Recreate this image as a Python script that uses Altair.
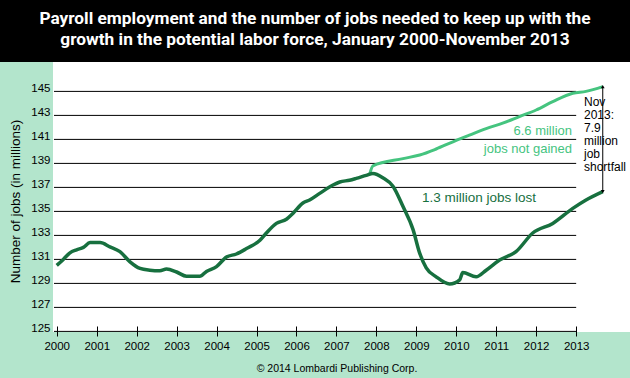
import altair as alt
import pandas as pd

# ---------------- data ----------------
title_lines = [
    "Payroll employment and the number of jobs needed to keep up with the",
    "growth in the potential labor force, January 2000-November 2013",
]

dark_dates = [
    "2000-01", "2000-03", "2000-05", "2000-07", "2000-09", "2000-11",
    "2001-02", "2001-05", "2001-08", "2001-11",
    "2002-02", "2002-05", "2002-08", "2002-10",
    "2003-01", "2003-04", "2003-08", "2003-10",
    "2004-01", "2004-04", "2004-07", "2004-10",
    "2005-02", "2005-04", "2005-07", "2005-10", "2005-12",
    "2006-03", "2006-05", "2006-08", "2006-12",
    "2007-02", "2007-05", "2007-07", "2007-10", "2007-12",
    "2008-03", "2008-06", "2008-09", "2008-12",
    "2009-02", "2009-04", "2009-07", "2009-11",
    "2010-02", "2010-03", "2010-07", "2010-10",
    "2011-02", "2011-07", "2011-12",
    "2012-06", "2012-12",
    "2013-04", "2013-09",
]
dark_values = [
    130.5, 131.0, 131.55, 131.8, 132.0, 132.4,
    132.4, 132.05, 131.65, 130.8,
    130.25, 130.1, 130.05, 130.2,
    129.95, 129.6, 129.6, 130.0,
    130.4, 131.2, 131.45, 131.9,
    132.6, 133.2, 134.0, 134.35, 134.85,
    135.7, 135.95, 136.5, 137.2,
    137.45, 137.6, 137.75, 138.0, 138.15,
    137.8, 137.1, 135.4, 133.5,
    131.5, 130.3, 129.55, 128.95,
    129.3, 129.9, 129.55, 130.1,
    130.95, 131.65, 133.2,
    134.0, 135.25,
    135.95, 136.65,
]

light_dates = [
    "2007-11", "2007-12", "2008-09", "2009-02", "2009-07", "2009-12",
    "2010-05", "2010-10", "2011-03", "2011-08", "2012-01", "2012-06",
    "2012-12", "2013-04", "2013-09",
]
light_values = [
    138.1, 138.8, 139.4, 139.7, 140.2, 140.8,
    141.35, 141.9, 142.35, 142.9, 143.45, 144.15,
    144.85, 145.0, 145.4,
]

grid_values = [125, 127, 129, 131, 133, 135, 137, 139, 141, 143, 145]
grid_start = "1999-12-07"
grid_end = "2013-01-01"
year_ticks = list(range(2000, 2014))

note_light = "6.6 million\njobs not gained"
note_dark = "1.3 million jobs lost"
note_gap = "Nov\n2013:\n7.9\nmillion\njob\nshortfall"
y_title = "Number of jobs (in millions)"
credit = "\u00a9 2014 Lombardi Publishing Corp."

# ---------------- tables ----------------
dark_df = pd.DataFrame({"date": pd.to_datetime(dark_dates, format="%Y-%m"), "jobs": dark_values})
light_df = pd.DataFrame({"date": pd.to_datetime(light_dates, format="%Y-%m"), "jobs": light_values})
grid_df = pd.DataFrame({
    "start": pd.to_datetime([grid_start] * len(grid_values)),
    "end": pd.to_datetime([grid_end] * len(grid_values)),
    "jobs": grid_values,
})
arrow_df = pd.DataFrame({
    "date": pd.to_datetime([light_dates[-1], dark_dates[-1]], format="%Y-%m"),
    "jobs": [light_values[-1], dark_values[-1]],
    "end": ["top", "bottom"],
})
one = pd.DataFrame({"k": [0]})

DARK = "#17703f"
LIGHT = "#45c47f"
MINT = "#b3e5cc"
FONT = "Liberation Sans, Arial, Helvetica, sans-serif"
TITLE_FONT = "Roboto, Liberation Sans, sans-serif"

x_scale = alt.Scale(domain=[alt.DateTime(year=1999, month=11, date=28),
                            alt.DateTime(year=2014, month=5, date=8)])
y_scale = alt.Scale(domain=[124.95, 147.45], nice=False, zero=False)

x_axis = alt.Axis(
    values=[alt.DateTime(year=y, month=1, date=1) for y in year_ticks],
    format="%Y", title="", domain=False, grid=False,
    ticks=True, tickSize=10, tickColor="black", tickWidth=1, offset=-6,
    labelFont=FONT, labelFontSize=11.5, labelColor="black", labelPadding=4,
    labelFlush=False, labelOverlap=False,
)
y_axis = alt.Axis(
    values=grid_values, title=y_title, domain=False, grid=False, ticks=False,
    tickSize=0, labelFont=FONT, labelFontSize=11.5, labelColor="black",
    labelPadding=3, labelBaseline="alphabetic", labelOffset=0.5,
    titleFont=FONT, titleFontSize=13.5, titleFontWeight="normal", titleColor="black",
    titleAngle=-90, titleX=-38, titleY=139, titleAlign="center", titleBaseline="middle",
)

band = alt.Chart(one).mark_rect(color="black").encode(
    x=alt.value(-53), x2=alt.value(577), y=alt.value(-62), y2=alt.value(0)
)

grid = alt.Chart(grid_df).mark_rule(color="black", strokeWidth=1).encode(
    x=alt.X("start:T", scale=x_scale, axis=x_axis),
    x2="end:T",
    y=alt.Y("jobs:Q", scale=y_scale, axis=y_axis),
)

light = alt.Chart(light_df).mark_line(color=LIGHT, strokeWidth=3, interpolate="monotone").encode(
    x=alt.X("date:T", scale=x_scale, axis=x_axis),
    y=alt.Y("jobs:Q", scale=y_scale, axis=y_axis),
)

dark = alt.Chart(dark_df).mark_line(color=DARK, strokeWidth=3.5, interpolate="monotone").encode(
    x=alt.X("date:T", scale=x_scale, axis=x_axis),
    y=alt.Y("jobs:Q", scale=y_scale, axis=y_axis),
)

arrow_line = alt.Chart(arrow_df).mark_line(color="black", strokeWidth=1).encode(
    x=alt.X("date:T", scale=x_scale, axis=x_axis),
    y=alt.Y("jobs:Q", scale=y_scale, axis=y_axis),
)
arrow_heads = alt.Chart(arrow_df).mark_point(filled=True, color="black", size=14, opacity=1).encode(
    x=alt.X("date:T", scale=x_scale, axis=x_axis),
    y=alt.Y("jobs:Q", scale=y_scale, axis=y_axis),
    shape=alt.Shape("end:N", scale=alt.Scale(domain=["top", "bottom"],
                                             range=["triangle-up", "triangle-down"]),
                    legend=None),
)

t_light = alt.Chart(one).mark_text(
    align="right", baseline="middle", font=FONT, fontSize=13, color=LIGHT,
    lineBreak="\n", lineHeight=18.5,
).encode(x=alt.value(519), y=alt.value(68.7), text=alt.value(note_light))

t_dark = alt.Chart(one).mark_text(
    align="center", baseline="middle", font=FONT, fontSize=13.5, color=DARK,
).encode(x=alt.value(426), y=alt.value(135.7), text=alt.value(note_dark))

t_gap = alt.Chart(one).mark_text(
    align="left", baseline="middle", font=FONT, fontSize=12, color="black",
    lineBreak="\n", lineHeight=13,
).encode(x=alt.value(531), y=alt.value(39.5), text=alt.value(note_gap))

t_title = alt.Chart(one).mark_text(
    align="center", baseline="alphabetic", font=TITLE_FONT, fontSize=17.3,
    fontWeight="bold", color="white", lineBreak="\n", lineHeight=21,
).encode(x=alt.value(262), y=alt.value(-38), text=alt.value("\n".join(title_lines)))

t_credit = alt.Chart(one).mark_text(
    align="center", baseline="middle", font=FONT, fontSize=10.5, color="black",
).encode(x=alt.value(284), y=alt.value(307), text=alt.value(credit))

chart = alt.layer(
    band, grid, light, dark, arrow_line, arrow_heads,
    t_light, t_dark, t_gap, t_title, t_credit,
).properties(
    width=577, height=270,
    autosize=alt.AutoSizeParams(type="none"),
    padding={"left": 53, "top": 62, "right": 0, "bottom": 46},
    background=MINT,
).configure_view(fill="white", strokeWidth=0)

chart.save("out.html", embed_options={"renderer": "svg", "actions": False})
